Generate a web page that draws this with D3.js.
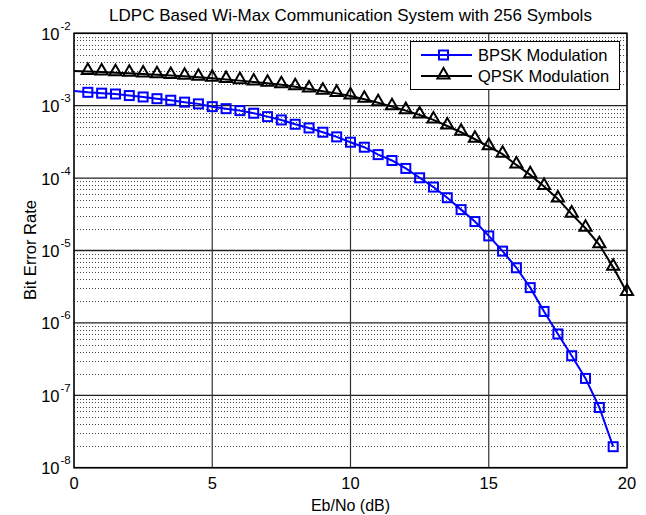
<!DOCTYPE html>
<html>
<head>
<meta charset="utf-8">
<script src="https://cdn.jsdelivr.net/npm/d3@7"></script>
<style>
  body { margin: 0; background: #fff; }
  text { font-family: Arial, "Liberation Sans", sans-serif; fill: #000; }
</style>
</head>
<body>
<script>
// Eb/No values (dB)
var ebno = [0, 0.5, 1, 1.5, 2, 2.5, 3, 3.5, 4, 4.5, 5, 5.5, 6, 6.5, 7, 7.5, 8, 8.5, 9, 9.5,
            10, 10.5, 11, 11.5, 12, 12.5, 13, 13.5, 14, 14.5, 15, 15.5, 16, 16.5, 17, 17.5, 18, 18.5, 19, 19.5, 20];
// BER (BPSK stops at 19.5 dB)
var bpsk = [1.60e-3, 1.53e-3, 1.49e-3, 1.45e-3, 1.38e-3, 1.32e-3, 1.25e-3, 1.19e-3, 1.12e-3, 1.06e-3,
            9.7e-4, 9.1e-4, 8.55e-4, 7.87e-4, 7.06e-4, 6.36e-4, 5.54e-4, 4.93e-4, 4.30e-4, 3.71e-4,
            3.13e-4, 2.67e-4, 2.11e-4, 1.75e-4, 1.36e-4, 1.01e-4, 7.52e-5, 5.36e-5, 3.67e-5, 2.51e-5,
            1.59e-5, 9.8e-6, 5.77e-6, 3.07e-6, 1.44e-6, 7.03e-7, 3.52e-7, 1.71e-7, 6.79e-8, 1.95e-8];
var qpsk = [3.02e-3, 2.97e-3, 2.92e-3, 2.86e-3, 2.80e-3, 2.74e-3, 2.68e-3, 2.62e-3, 2.55e-3, 2.47e-3,
            2.39e-3, 2.30e-3, 2.22e-3, 2.13e-3, 2.04e-3, 1.95e-3, 1.83e-3, 1.70e-3, 1.58e-3, 1.48e-3,
            1.36e-3, 1.23e-3, 1.10e-3, 9.7e-4, 8.55e-4, 7.45e-4, 6.36e-4, 5.25e-4, 4.30e-4, 3.44e-4,
            2.72e-4, 2.14e-4, 1.52e-4, 1.11e-4, 7.64e-5, 5.16e-5, 3.18e-5, 2.03e-5, 1.20e-5, 5.85e-6, 2.63e-6];
var xTicks = [0, 5, 10, 15, 20];
var yTicks = [-2, -3, -4, -5, -6, -7, -8];   // exponents
var legendNames = ["BPSK Modulation", "QPSK Modulation"];

var W = 646, H = 515;
var svg = d3.select("body").append("svg")
    .attr("width", W)
    .attr("height", H);

var x = d3.scaleLinear().domain([0, 20]).range([74, 627]);
var y = d3.scaleLog().domain([1e-8, 1e-2]).range([467.7, 33.3]);

// minor grid (dotted), 2..9 per decade
var minors = [];
yTicks.slice(0, 6).forEach(function(e) {
  for (var k = 2; k <= 9; k++) minors.push(k * Math.pow(10, e - 1));
});
svg.append("g").selectAll("line").data(minors).enter().append("line")
    .attr("x1", x(0)).attr("x2", x(20))
    .attr("y1", function(d) { return Math.round(y(d)) + 0.5; })
    .attr("y2", function(d) { return Math.round(y(d)) + 0.5; })
    .attr("stroke", "#444").attr("stroke-width", 1)
    .attr("stroke-dasharray", "1,2");

// major grid
svg.append("g").selectAll("line").data(yTicks).enter().append("line")
    .attr("x1", x(0)).attr("x2", x(20))
    .attr("y1", function(e) { return y(Math.pow(10, e)); })
    .attr("y2", function(e) { return y(Math.pow(10, e)); })
    .attr("stroke", "#222").attr("stroke-width", 1.3);
svg.append("g").selectAll("line").data(xTicks.slice(1, 4)).enter().append("line")
    .attr("x1", function(d) { return x(d); })
    .attr("x2", function(d) { return x(d); })
    .attr("y1", y(1e-2)).attr("y2", y(1e-8))
    .attr("stroke", "#333").attr("stroke-width", 1.2);

// axes box
svg.append("rect")
    .attr("x", x(0)).attr("y", y(1e-2))
    .attr("width", x(20) - x(0)).attr("height", y(1e-8) - y(1e-2))
    .attr("fill", "none").attr("stroke", "#000").attr("stroke-width", 1.6);

// x tick labels
svg.append("g").selectAll("text").data(xTicks).enter().append("text")
    .attr("x", function(d) { return x(d); })
    .attr("y", 489)
    .attr("text-anchor", "middle")
    .attr("font-size", "16.5px")
    .text(function(d) { return d; });

// y tick labels 10^e
svg.append("g").selectAll("text").data(yTicks).enter().append("text")
    .attr("x", 59.5)
    .attr("y", function(e) { return y(Math.pow(10, e)) + 6.5; })
    .attr("text-anchor", "end")
    .attr("font-size", "16.5px")
    .text("10");
svg.append("g").selectAll("text").data(yTicks).enter().append("text")
    .attr("x", 60.5)
    .attr("y", function(e) { return y(Math.pow(10, e)) - 3.5; })
    .attr("font-size", "11.5px")
    .text(function(e) { return e; });

// titles
svg.append("text").attr("x", 350.5).attr("y", 20.5)
    .attr("text-anchor", "middle").attr("font-size", "17px")
    .text("LDPC Based Wi-Max Communication System with 256 Symbols");
svg.append("text").attr("x", 350.5).attr("y", 511)
    .attr("text-anchor", "middle").attr("font-size", "16px")
    .text("Eb/No (dB)");
svg.append("text")
    .attr("transform", "translate(36,250) rotate(-90)")
    .attr("text-anchor", "middle").attr("font-size", "16.5px")
    .text("Bit Error Rate");

var line = d3.line()
    .x(function(d) { return x(d[0]); })
    .y(function(d) { return y(d[1]); });

var bData = bpsk.map(function(v, i) { return [ebno[i], v]; });
var qData = qpsk.map(function(v, i) { return [ebno[i], v]; });

var tri = d3.symbol().type(d3.symbolTriangle).size(64);

function drawSeries(data, color, kind) {
  svg.append("path").datum(data)
      .attr("d", line)
      .attr("fill", "none").attr("stroke", color).attr("stroke-width", 2);
  // markers start at 0.5 dB, first point has no marker
  var pts = data.slice(1);
  if (kind == "sq") {
    svg.append("g").selectAll("rect").data(pts).enter().append("rect")
        .attr("x", function(d) { return x(d[0]) - 4.5; })
        .attr("y", function(d) { return y(d[1]) - 4.5; })
        .attr("width", 9).attr("height", 9)
        .attr("fill", "none").attr("stroke", color).attr("stroke-width", 2);
  } else {
    svg.append("g").selectAll("path").data(pts).enter().append("path")
        .attr("d", tri)
        .attr("transform", function(d) { return "translate(" + x(d[0]) + "," + (y(d[1]) - 1) + ")"; })
        .attr("fill", "none").attr("stroke", color).attr("stroke-width", 2);
  }
}
drawSeries(bData, "#0000ff", "sq");
drawSeries(qData, "#000", "tri");

// legend
var lg = svg.append("g");
lg.append("rect").attr("x", 410.5).attr("y", 41.5).attr("width", 209).attr("height", 48)
    .attr("fill", "#fff").attr("stroke", "#000").attr("stroke-width", 1);
var rows = [55, 76];
var colors = ["#0000ff", "#000"];
legendNames.forEach(function(n, i) {
  lg.append("line").attr("x1", 421).attr("x2", 472).attr("y1", rows[i]).attr("y2", rows[i])
      .attr("stroke", colors[i]).attr("stroke-width", 2);
  if (i == 0) {
    lg.append("rect").attr("x", 443.5 - 4.5).attr("y", rows[i] - 4.5).attr("width", 9).attr("height", 9)
        .attr("fill", "none").attr("stroke", colors[i]).attr("stroke-width", 2);
  } else {
    lg.append("path").attr("d", tri).attr("transform", "translate(443.5," + (rows[i] - 1) + ")")
        .attr("fill", "none").attr("stroke", colors[i]).attr("stroke-width", 2);
  }
  lg.append("text").attr("x", 478).attr("y", rows[i] + 6)
      .attr("font-size", "16.5px").text(n);
});
</script>
</body>
</html>
